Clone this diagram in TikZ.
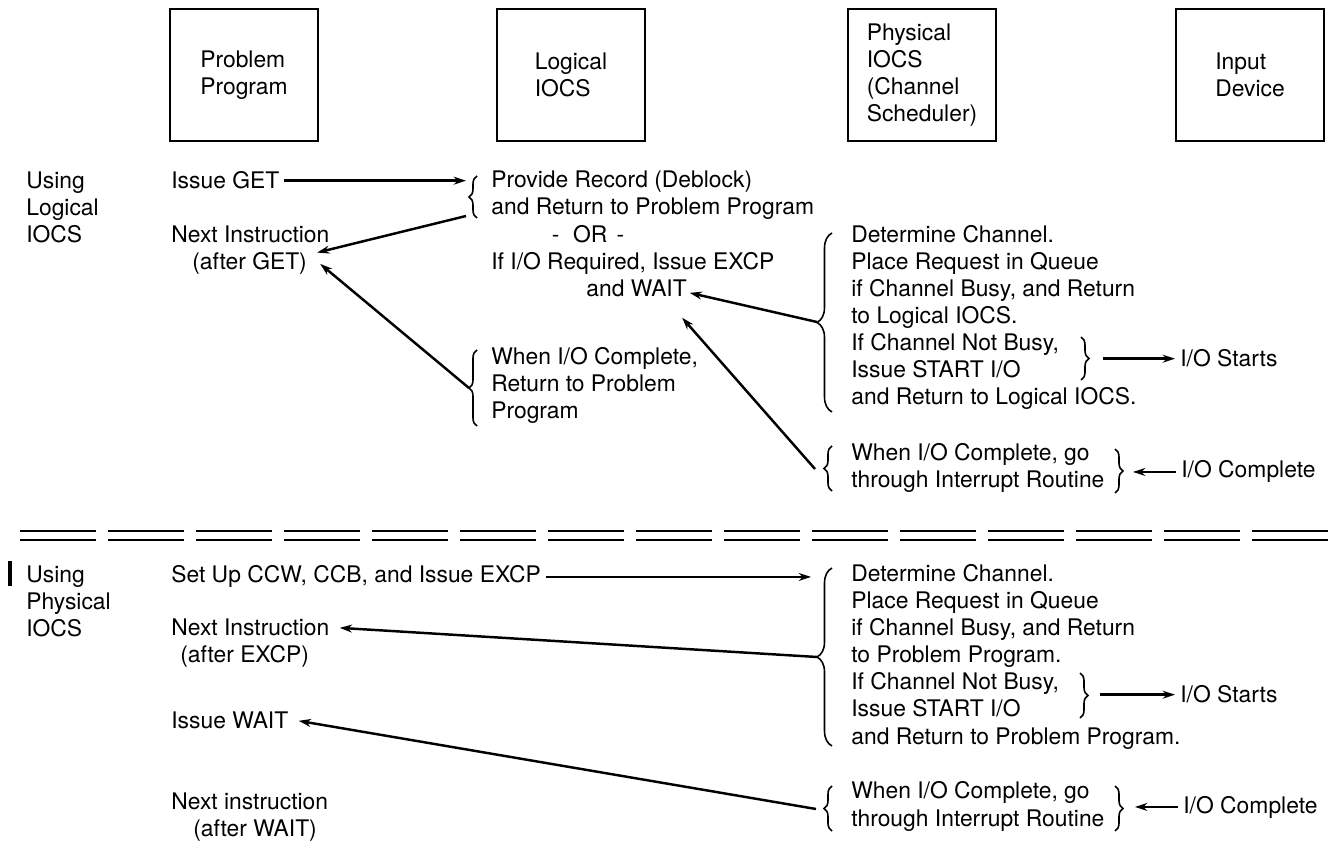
\documentclass[tikz,border=0pt]{standalone}
\usepackage{fontspec}
\setmainfont{TeX Gyre Heros}
\usepackage{tikz}
\usetikzlibrary{arrows.meta, decorations.pathreplacing, calc}

\begin{document}
\begin{tikzpicture}[x=0.2mm, y=-0.2mm,
  font=\fontsize{13}{15.4}\selectfont,
  box/.style={rectangle, draw, line width=1.4pt, minimum width=2.96cm,
             minimum height=2.64cm, inner sep=0pt, align=left},
  txt/.style={anchor=base west, inner sep=0pt, align=left},
  arr/.style={line width=1.4pt, -{Stealth[length=7pt, width=4.5pt]}},
  brc/.style={decorate, decoration={brace, amplitude=#1}, line width=0.9pt},
  brc/.default=0.16cm,
  dbl/.style={line width=1.4pt, dash pattern=on 1.52cm off 0.24cm},
]
\useasboundingbox (0,0) rectangle (1332,843);

% ---- Unit boxes ----
\node[box] (prob)  at (244,75)  {Problem\\Program};
\node[box] (lgcl)  at (571,75)  {Logical\\IOCS};
\node[box] (phys)  at (922,75)  {Physical\\IOCS\\(Channel\\Scheduler)};
\node[box] (indev) at (1250,75) {Input\\Device};

% ---- Using logical IOCS ----
% (base of a multi-line node = its last line)
\node[txt] (uselog) at (26,243)  {Using\\Logical\\IOCS};
\node[txt] (iget)   at (171,189) {Issue GET};
\node[txt] (next1)  at (171,243) {Next Instruction};
\node[txt] (after1) at (192,270) {(after GET)};
\node[txt] (prov)   at (491,215) {Provide Record (Deblock)\\and Return to Problem Program};
\node[anchor=base, inner sep=0pt] (orln) at (588,243) {-\hspace{0.6em}OR\hspace{0.4em}-};
\node[txt] (ifreq)  at (491,270) {If I/O Required, Issue EXCP};
\node[txt] (wait1)  at (586,297) {and WAIT};
\node[txt] (done1)  at (491,419) {When I/O Complete,\\Return to Problem\\Program};
\node[txt] (sched1) at (851,405) {Determine Channel.\\Place Request in Queue\\if Channel Busy, and Return\\to Logical IOCS.\\If Channel Not Busy,\\Issue START I/O\\and Return to Logical IOCS.};
\node[txt] (start1) at (1180,367) {I/O Starts};
\node[txt] (intr1)  at (851,488) {When I/O Complete, go\\through Interrupt Routine};
\node[txt] (cmpl1)  at (1181,478) {I/O Complete};

\draw[brc] (477,218) -- (477,176);
\draw[brc] (477,426) -- (477,350);
\draw[brc=0.3cm] (832,412) -- (832,233);
\draw[brc] (1081,337) -- (1081,380);
\draw[brc] (832,491) -- (832,446);
\draw[brc] (1115,449) -- (1115,493);

\coordinate (provtop)   at (466,181);
\coordinate (provbot)   at (466,216);
\coordinate (donetip)   at (469,388);
\coordinate (schedtip1) at (817,322);
\coordinate (busy1)     at (1103,358);
\coordinate (intrtip1)  at (815,469);
\coordinate (intrend1)  at (1133,470);

\draw[arr] ([xshift=0.08cm]iget.east) -- (iget.east -| provtop);
\draw[arr] (provbot) -- ([xshift=0.2cm]after1.north east);
\draw[arr] (donetip) -- ([xshift=0.26cm]after1.east);
\draw[arr] (schedtip1) -- ([shift={(0.05cm,-0.08cm)}]wait1.east);
\draw[arr] (intrtip1) -- ([shift={(-0.1cm,-0.4cm)}]wait1.south east);
\draw[arr] (start1.west -| busy1) -- ([xshift=-0.1cm]start1.west);
\draw[arr] ([xshift=-0.1cm]cmpl1.west) -- (cmpl1.west -| intrend1);

% ---- Separator ----
\draw[dbl] (20,531) -- (1328,531);
\draw[dbl] (20,540) -- (1328,540);

% ---- Using physical IOCS ----
\draw[line width=2.2pt] (10,561) -- (10,586);
\node[txt] (usephy) at (26,637)  {Using\\Physical\\IOCS};
\node[txt] (setup)  at (171,583) {Set Up CCW, CCB, and Issue EXCP};
\node[txt] (next2)  at (171,636) {Next Instruction};
\node[txt] (after2) at (180,663) {(after EXCP)};
\node[txt] (iwait)  at (171,729) {Issue WAIT};
\node[txt] (next3)  at (171,809) {Next instruction};
\node[txt] (after3) at (193,836) {(after WAIT)};
\node[txt] (sched2) at (851,744) {Determine Channel.\\Place Request in Queue\\if Channel Busy, and Return\\to Problem Program.\\If Channel Not Busy,\\Issue START I/O\\and Return to Problem Program.};
\node[txt] (start2) at (1180,703) {I/O Starts};
\node[txt] (intr2)  at (851,826) {When I/O Complete, go\\through Interrupt Routine};
\node[txt] (cmpl2)  at (1183,813) {I/O Complete};

\draw[brc=0.3cm] (832,746) -- (832,568);
\draw[brc] (1080,673) -- (1080,718);
\draw[brc] (832,831) -- (832,786);
\draw[brc] (1115,786) -- (1115,831);

\coordinate (schedtop2) at (811,575);
\coordinate (schedtip2) at (817,657);
\coordinate (busy2)     at (1100,696);
\coordinate (intrtip2)  at (816,809);
\coordinate (intrend2)  at (1135,808);

\draw[arr] ([xshift=0.1cm]setup.east) -- (setup.east -| schedtop2);
\draw[arr] (schedtip2) -- ([xshift=0.2cm]next2.east);
\draw[arr] (start2.west -| busy2) -- ([xshift=-0.1cm]start2.west);
\draw[arr] (intrtip2) -- ([xshift=0.2cm]iwait.east);
\draw[arr] ([xshift=-0.1cm]cmpl2.west) -- (cmpl2.west -| intrend2);

\end{tikzpicture}
\end{document}
